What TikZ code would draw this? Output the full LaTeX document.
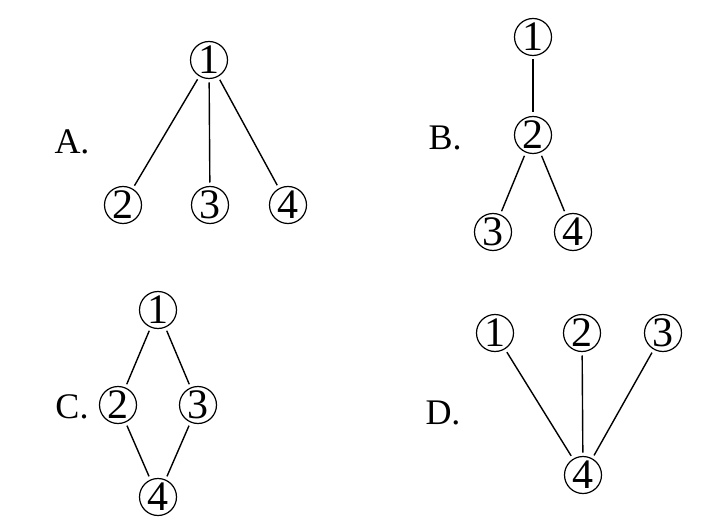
\documentclass[tikz,border=0pt]{standalone}
\usepackage{fontspec}
\setmainfont{Liberation Serif}
\usepackage{tikz}
\usetikzlibrary{positioning}

\begin{document}
\begin{tikzpicture}[
  x=0.5pt, y=-0.5pt,
  num/.style={draw, circle, minimum size=18.5pt, inner sep=0pt, outer sep=2pt,
              line width=0.6pt, font=\fontsize{21}{21}\selectfont},
  optlabel/.style={font=\fontsize{18}{18}\selectfont, inner sep=0pt},
  edge/.style={line width=0.7pt}
]
\useasboundingbox (0,0) rectangle (722,529);

% option A
\node[optlabel] (labA) at (72,142) {A.};
\node[num] (a1) at (209,60) {1};
\node[num] (a2) at (123,205) {2};
\node[num] (a3) at (210,205) {3};
\node[num] (a4) at (288,205) {4};
\draw[edge] (a1) -- (a2);
\draw[edge] (a1) -- (a3);
\draw[edge] (a1) -- (a4);

% option B
\node[optlabel] (labB) at (445,138) {B.};
\node[num] (b1) at (533,37) {1};
\node[num] (b2) at (533,135) {2};
\node[num] (b3) at (493,232) {3};
\node[num] (b4) at (573,232) {4};
\draw[edge] (b1) -- (b2);
\draw[edge] (b2) -- (b3);
\draw[edge] (b2) -- (b4);

% option C
\node[optlabel] (labC) at (72,407) {C.};
\node[num] (c1) at (158,310) {1};
\node[num] (c2) at (118,405) {2};
\node[num] (c3) at (198,405) {3};
\node[num] (c4) at (158,497) {4};
\draw[edge] (c1) -- (c2);
\draw[edge] (c1) -- (c3);
\draw[edge] (c2) -- (c4);
\draw[edge] (c3) -- (c4);

% option D
\node[optlabel] (labD) at (443,413) {D.};
\node[num] (d1) at (495,333) {1};
\node[num] (d2) at (582,333) {2};
\node[num] (d3) at (663,333) {3};
\node[num] (d4) at (583,475) {4};
\draw[edge] (d1) -- (d4);
\draw[edge] (d2) -- (d4);
\draw[edge] (d3) -- (d4);
\end{tikzpicture}
\end{document}
